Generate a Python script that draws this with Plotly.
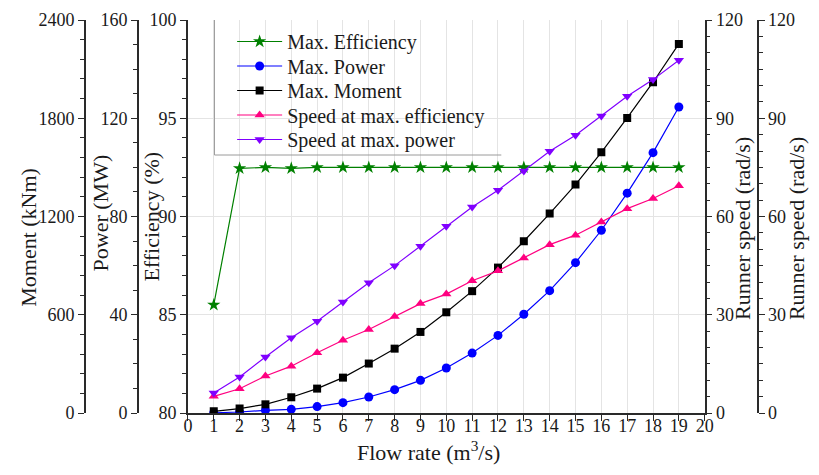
import plotly.graph_objects as go

flow = [1, 2, 3, 4, 5, 6, 7, 8, 9, 10, 11, 12, 13, 14, 15, 16, 17, 18, 19]
max_eff = [85.5, 92.45, 92.5, 92.45, 92.5, 92.5, 92.5, 92.5, 92.5, 92.5,
           92.5, 92.5, 92.5, 92.5, 92.5, 92.5, 92.5, 92.5, 92.5]
max_power = [0.1, 0.4, 1.1, 1.5, 2.6, 4.2, 6.5, 9.5, 13.3, 18.3,
             24.4, 31.6, 40.2, 49.8, 61.2, 74.4, 89.5, 106.0, 124.6]
max_moment = [10, 27, 53, 96, 149, 216, 302, 393, 495, 615,
              744, 888, 1049, 1218, 1395, 1592, 1802, 2020, 2254]
speed_eff = [5.1, 7.4, 11.3, 14.3, 18.4, 22.2, 25.5, 29.5, 33.4, 36.3,
             40.4, 43.4, 47.3, 51.4, 54.3, 58.3, 62.4, 65.5, 69.4]
speed_pow = [6.1, 11.0, 17.1, 23.0, 28.0, 33.9, 39.8, 45.0, 50.9, 57.0,
             62.9, 68.0, 73.9, 79.9, 84.8, 90.7, 96.7, 101.8, 107.7]

FONT = "Liberation Serif, Times New Roman, Times, serif"
TXT = "#1a1a1a"
AX = "#2a2a2a"

W, H = 819, 475
ML, MR, MT, MB = 10, 10, 20, 62
PW = W - ML - MR
PH = H - MT - MB


def px(x):
    return (x - ML) / PW


def py(y):
    return (H - MB - y) / PH


fig = go.Figure()

fig.add_trace(go.Scatter(x=flow, y=max_eff, name="Max. Efficiency", mode="lines+markers",
                         line=dict(color="#008000", width=1.2), legend="legend",
                         marker=dict(symbol="star", size=10, color="#008000"), yaxis="y"))
fig.add_trace(go.Scatter(x=flow, y=max_power, name="Max. Power", mode="lines+markers",
                         line=dict(color="#0000ff", width=1.2), legend="legend2",
                         marker=dict(symbol="circle", size=9, color="#0000ff"), yaxis="y2"))
fig.add_trace(go.Scatter(x=flow, y=max_moment, name="Max. Moment", mode="lines+markers",
                         line=dict(color="#000000", width=1.2), legend="legend3",
                         marker=dict(symbol="square", size=8, color="#000000"), yaxis="y3"))
fig.add_trace(go.Scatter(x=flow, y=speed_eff, name="Speed at max. efficiency", mode="lines+markers",
                         line=dict(color="#ff0080", width=1.2), legend="legend4",
                         marker=dict(symbol="triangle-up", size=9, color="#ff0080"), yaxis="y4"))
fig.add_trace(go.Scatter(x=flow, y=speed_pow, name="Speed at max. power", mode="lines+markers",
                         line=dict(color="#8000ff", width=1.2), legend="legend5",
                         marker=dict(symbol="triangle-down", size=9, color="#8000ff"), yaxis="y4"))
# invisible trace so the duplicate runner speed axis is drawn
fig.add_trace(go.Scatter(x=flow, y=speed_pow, mode="lines", line=dict(width=0, color="rgba(0,0,0,0)"),
                         showlegend=False, hoverinfo="skip", yaxis="y5"))

tickfont = dict(family=FONT, size=18, color=TXT)
common = dict(showline=True, linecolor=AX, linewidth=1.5, ticks="outside", ticklen=6,
              tickwidth=1.3, tickcolor=AX, tickfont=tickfont, zeroline=False)

x0, x1 = px(186), px(712)


def leg(yc):
    return dict(x=px(231), y=py(yc), xanchor="left", yanchor="middle",
                bgcolor="rgba(0,0,0,0)", borderwidth=0,
                font=dict(family=FONT, size=20, color=TXT), itemwidth=45)


fig.update_layout(
    width=W, height=H,
    margin=dict(l=ML, r=MR, t=MT, b=MB),
    paper_bgcolor="white", plot_bgcolor="white",
    font=dict(family=FONT, color=TXT),
    showlegend=True,
    legend=leg(41.5), legend2=leg(66), legend3=leg(90.5), legend4=leg(115), legend5=leg(139.5),
    xaxis=dict(domain=[x0, x1], range=[0, 20], dtick=1, tick0=0,
               showgrid=True, gridcolor="#e4e4e4", gridwidth=1, ticklabelstandoff=-10, **common),
    yaxis=dict(range=[80, 100], dtick=5, anchor="x", side="left",
               showgrid=True, gridcolor="#e4e4e4", gridwidth=1,
               minor=dict(dtick=1, ticklen=4, tickcolor=AX, ticks="outside"), **common),
    yaxis2=dict(range=[0, 160], dtick=40, overlaying="y", anchor="free", position=px(135), side="left",
                showgrid=False, minor=dict(dtick=10, ticklen=4, tickcolor=AX, ticks="outside"), **common),
    yaxis3=dict(range=[0, 2400], dtick=600, overlaying="y", anchor="free", position=px(81), side="left",
                showgrid=False, minor=dict(dtick=120, ticklen=4, tickcolor=AX, ticks="outside"), **common),
    yaxis4=dict(range=[0, 120], dtick=30, overlaying="y", anchor="x", side="right",
                showgrid=False, minor=dict(dtick=5, ticklen=4, tickcolor=AX, ticks="outside"), **common),
    yaxis5=dict(range=[0, 120], dtick=30, overlaying="y", anchor="free", position=px(766), side="right",
                showgrid=False, minor=dict(dtick=5, ticklen=4, tickcolor=AX, ticks="outside"), **common),
)

tfont = dict(family=FONT, size=22, color=TXT)
ann = [
    ("Moment (kNm)", 23, 237),
    ("Power (MW)", 97, 213),
    ("Efficiency (%)", 148, 217),
    ("Runner speed (rad/s)", 750, 229),
    ("Runner speed (rad/s)", 805, 229),
]
for t, xx, yy in ann:
    fig.add_annotation(text=t, x=px(xx), y=py(yy), xref="paper", yref="paper",
                       textangle=-90, showarrow=False, font=tfont,
                       xanchor="center", yanchor="middle")
fig.add_annotation(text="Flow rate (m<sup>3</sup>/s)", x=px(431), y=py(451), xref="paper", yref="paper",
                   showarrow=False, font=tfont, xanchor="center", yanchor="middle")

# legend box: white fill hides gridlines, left and bottom edges drawn
fig.add_shape(type="rect", xref="paper", yref="paper", x0=px(213), x1=px(505), y0=py(155), y1=py(20),
              line=dict(width=0), fillcolor="white", layer="between")
fig.add_shape(type="line", xref="paper", yref="paper", x0=px(213), x1=px(213), y0=py(20), y1=py(155),
              line=dict(color="#9a9a9a", width=1))
fig.add_shape(type="line", xref="paper", yref="paper", x0=px(213), x1=px(505), y0=py(155), y1=py(155),
              line=dict(color="#9a9a9a", width=1))

fig.write_html("out.html")
